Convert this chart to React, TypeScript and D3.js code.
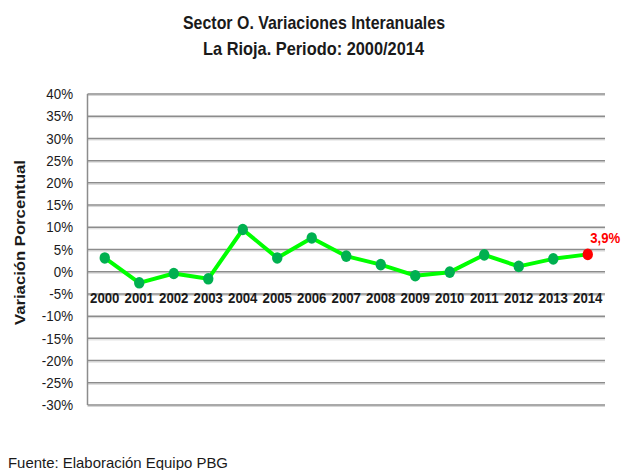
import React from 'react';
import * as d3 from 'd3';

const years = ['2000', '2001', '2002', '2003', '2004', '2005', '2006', '2007', '2008', '2009', '2010', '2011', '2012', '2013', '2014'];
const variation = [3.1, -2.5, -0.4, -1.6, 9.5, 3.1, 7.6, 3.5, 1.6, -0.9, -0.1, 3.8, 1.2, 2.9, 3.9];
const yTicks = [40, 35, 30, 25, 20, 15, 10, 5, 0, -5, -10, -15, -20, -25, -30];
const lastLabel = '3,9%';

const W = 624;
const H = 470;
const left = 87.5;
const right = 605;
const top = 94;
const bottom = 405;

const App: React.FC = () => {
  const x = d3.scaleBand<string>().domain(years).range([left, right]).padding(0);
  const y = d3.scaleLinear().domain([-30, 40]).range([bottom, top]);

  const pts = years.map((yr, i) => ({ yr, v: variation[i] }));
  const line = d3
    .line<{ yr: string; v: number }>()
    .x(d => x(d.yr)! + x.bandwidth() / 2)
    .y(d => y(d.v));

  const last = pts[pts.length - 1];
  const font = '"Liberation Sans", Arial, sans-serif';

  return (
    <svg width={W} height={H} style={{ position: 'absolute', left: 0, top: 0 }} fontFamily={font}>
      <rect width={W} height={H} fill="#fff" />

      {/* titulo */}
      <text x={314} y={29} textAnchor="middle" fontSize={18.5} fontWeight="bold" fill="#1a1a1a"
        textLength={262} lengthAdjust="spacingAndGlyphs">
        Sector O. Variaciones Interanuales
      </text>
      <text x={313.5} y={55} textAnchor="middle" fontSize={18.5} fontWeight="bold" fill="#1a1a1a"
        textLength={221} lengthAdjust="spacingAndGlyphs">
        La Rioja. Periodo: 2000/2014
      </text>

      {/* rejilla */}
      {yTicks.map(t => (
        <g key={t}>
          <line x1={left} x2={right} y1={y(t) + 1.5} y2={y(t) + 1.5} stroke="#d6d6d6" strokeWidth={1} />
          <line x1={left} x2={right} y1={y(t)} y2={y(t)} stroke="#8c8c8c" strokeWidth={1.5} />
          <text transform={`translate(73,${y(t) + 5.2}) scale(0.92,1)`} textAnchor="end" fontSize={14.5} fill="#1a1a1a">
            {`${t}%`}
          </text>
        </g>
      ))}
      <line x1={left} x2={left} y1={top} y2={bottom} stroke="#8c8c8c" strokeWidth={1.5} />

      {/* etiquetas de años */}
      {years.map(yr => (
        <text key={yr} transform={`translate(${x(yr)! + x.bandwidth() / 2},302.5) scale(0.88,1)`}
          textAnchor="middle" fontSize={15} fontWeight="bold" fill="#1a1a1a">
          {yr}
        </text>
      ))}

      {/* eje y titulo */}
      <text transform="translate(25,242.5) rotate(-90)" textAnchor="middle" fontSize={14} fontWeight="bold"
        fill="#1a1a1a" textLength={165} lengthAdjust="spacingAndGlyphs">
        Variación  Porcentual
      </text>

      {/* serie */}
      <path d={line(pts)!} fill="none" stroke="#00ff00" strokeWidth={4} strokeLinejoin="round" />
      {pts.map((d, i) => (
        <ellipse key={d.yr} cx={x(d.yr)! + x.bandwidth() / 2} cy={y(d.v)} rx={5.2} ry={5.8}
          fill={i === pts.length - 1 ? '#ff0000' : '#00b050'} />
      ))}
      <text x={x(last.yr)! + x.bandwidth() / 2 + 2.5} y={y(last.v) - 11} fontSize={15.5} fontWeight="bold"
        fill="#ff0000" textLength={30} lengthAdjust="spacingAndGlyphs">
        {lastLabel}
      </text>

      {/* fuente */}
      <text x={8} y={468} fontSize={15} fill="#1a1a1a" textLength={220} lengthAdjust="spacingAndGlyphs">
        Fuente: Elaboración Equipo PBG
      </text>
    </svg>
  );
};

export default App;
